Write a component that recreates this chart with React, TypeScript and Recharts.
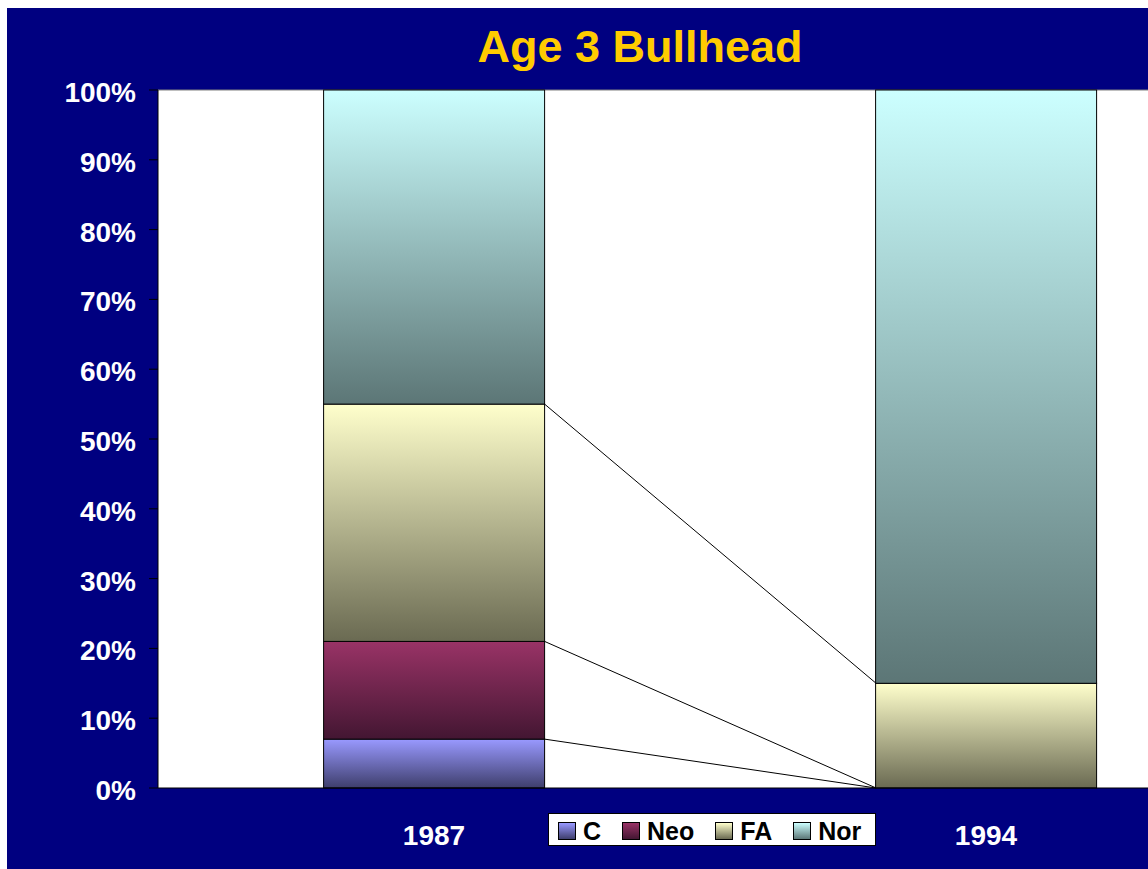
// Age 3 Bullhead - 100% stacked columns with series lines

import { BarChart, Bar, XAxis, YAxis, CartesianGrid } from 'recharts'

const years = ['1987', '1994']
const cValues = [7, 0]
const neoValues = [14, 0]
const faValues = [34, 15]
const norValues = [45, 85]
const yTicks = [0, 0.1, 0.2, 0.3, 0.4, 0.5, 0.6, 0.7, 0.8, 0.9, 1]

const series = [
  { key: 'C', values: cValues, top: '#9999FF', bottom: '#3E3E6C' },
  { key: 'Neo', values: neoValues, top: '#993366', bottom: '#431632' },
  { key: 'FA', values: faValues, top: '#FFFFCC', bottom: '#6A6A52' },
  { key: 'Nor', values: norValues, top: '#CCFFFF', bottom: '#5C7676' },
]

const data = years.map((year, i) => {
  const row: Record<string, string | number> = { year }
  series.forEach((s) => (row[s.key] = s.values[i]))
  return row
})

// share of the column reached by the top of each series
const cumTop = series.map((_, s) =>
  years.map((_, i) => {
    const total = series.reduce((a, d) => a + d.values[i], 0)
    const upto = series.slice(0, s + 1).reduce((a, d) => a + d.values[i], 0)
    return upto / total
  })
)

const GAP = 0.3
const FONT = '"Liberation Sans", Arial, sans-serif'
const NAVY = '#000080'

const segmentShape = (s: number) => (props: any) => {
  const { x, y, width, height, index, background } = props
  const key = series[s].key
  return (
    <g>
      {height > 0 && (
        <rect
          x={x}
          y={y}
          width={width}
          height={height}
          fill={`url(#grad-${key})`}
          stroke="#000"
          strokeWidth={1}
        />
      )}
      {index === 0 && s < series.length - 1 && background && (
        <line
          x1={x + width}
          y1={y}
          x2={x + width / (1 - 2 * GAP)}
          y2={background.y + background.height * (1 - cumTop[s][1])}
          stroke="#000"
          strokeWidth={1}
        />
      )}
    </g>
  )
}

function LegendBox() {
  return (
    <div
      style={{
        position: 'absolute',
        left: 541,
        top: 805,
        width: 328,
        height: 33,
        background: '#fff',
        border: '1px solid #000',
        display: 'flex',
        alignItems: 'center',
        paddingLeft: 9,
        paddingTop: 3,
        boxSizing: 'border-box',
        fontFamily: FONT,
        fontWeight: 700,
        fontSize: 25,
        color: '#000',
      }}
    >
      {series.map((s, i) => (
        <div
          key={s.key}
          style={{
            display: 'flex',
            alignItems: 'center',
            marginRight: i < series.length - 1 ? 21 : 0,
          }}
        >
          <div
            style={{
              width: 16,
              height: 16,
              border: '1px solid #000',
              background: `linear-gradient(to bottom, ${s.top}, ${s.bottom})`,
              marginRight: 7,
            }}
          />
          <span style={{ lineHeight: '25px' }}>{s.key}</span>
        </div>
      ))}
    </div>
  )
}

export default function App() {
  return (
    <div
      style={{
        position: 'absolute',
        left: 7,
        top: 8,
        width: 1141,
        height: 861,
        background: NAVY,
        overflow: 'hidden',
      }}
    >
      <div
        style={{
          position: 'absolute',
          left: 233,
          top: 16,
          width: 800,
          textAlign: 'center',
          fontFamily: FONT,
          fontWeight: 700,
          fontSize: 45,
          lineHeight: 1,
          color: '#FFCC00',
        }}
      >
        Age 3 Bullhead
      </div>
      <BarChart
        width={1260}
        height={861}
        data={data}
        stackOffset="expand"
        barCategoryGap={`${GAP * 100}%`}
        margin={{ top: 82, right: 5, bottom: 0, left: 0 }}
      >
        <defs>
          {series.map((s) => (
            <linearGradient key={s.key} id={`grad-${s.key}`} x1="0" y1="0" x2="0" y2="1">
              <stop offset="0%" stopColor={s.top} />
              <stop offset="100%" stopColor={s.bottom} />
            </linearGradient>
          ))}
        </defs>
        <CartesianGrid
          fill="#ffffff"
          vertical={false}
          horizontalValues={[1]}
          stroke="#808080"
        />
        <XAxis
          dataKey="year"
          height={81}
          axisLine={{ stroke: '#000' }}
          tickLine={false}
          tickSize={0}
          tickMargin={37}
          tick={{ fill: '#fff', fontSize: 28, fontWeight: 700, fontFamily: FONT }}
        />
        <YAxis
          width={151}
          domain={[0, 1]}
          ticks={yTicks}
          interval={0}
          tickFormatter={(v: number) => `${Math.round(v * 100)}%`}
          axisLine={{ stroke: '#000' }}
          tickLine={{ stroke: '#000' }}
          tickSize={9}
          tickMargin={13}
          tick={{ fill: '#fff', fontSize: 28, fontWeight: 700, fontFamily: FONT, dy: 2 }}
        />
        {series.map((s, i) => (
          <Bar
            key={s.key}
            dataKey={s.key}
            stackId="a"
            fill={`url(#grad-${s.key})`}
            shape={segmentShape(i)}
            isAnimationActive={false}
          />
        ))}
      </BarChart>
      <LegendBox />
    </div>
  )
}
